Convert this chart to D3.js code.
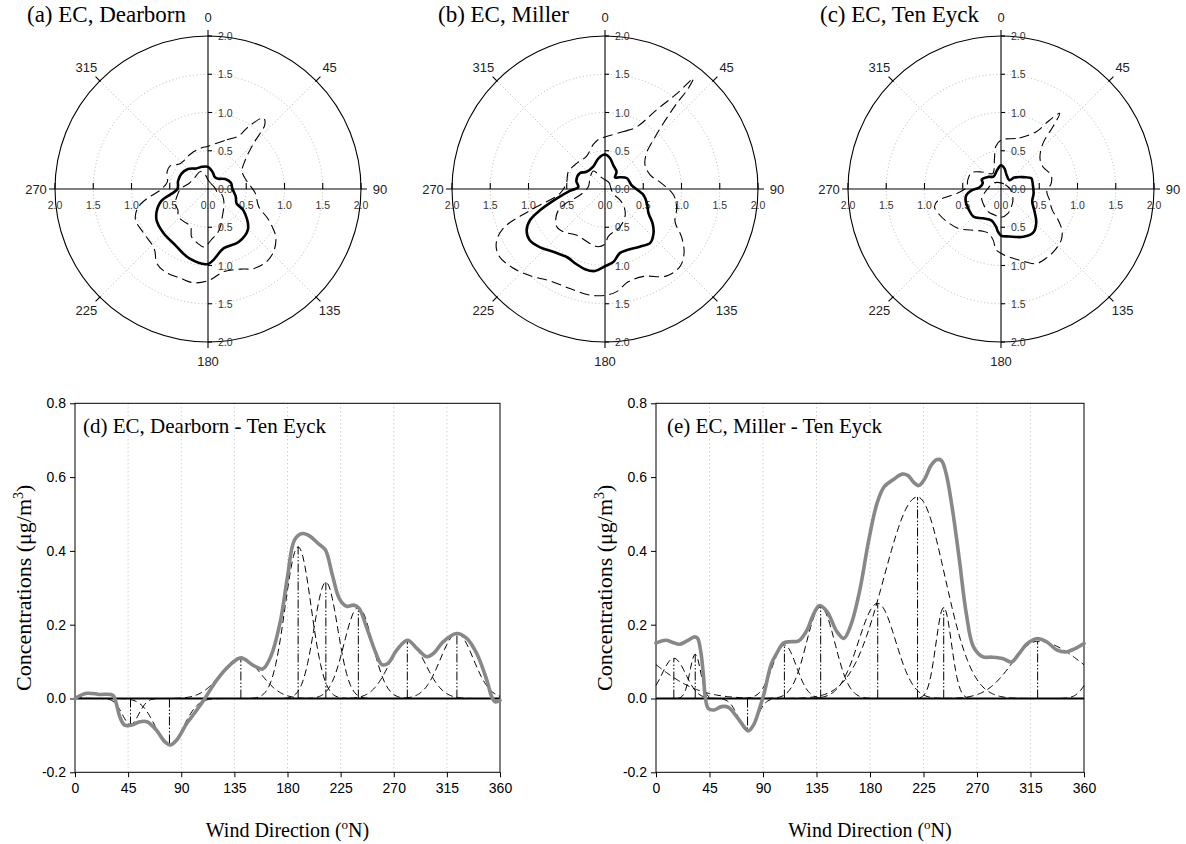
<!DOCTYPE html>
<html>
<head>
<meta charset="utf-8">
<script src="https://cdn.jsdelivr.net/npm/d3@7"></script>
<style>
  html, body { margin: 0; padding: 0; background: #fff; }
  svg { display: block; }
</style>
</head>
<body>
<svg id="chart" width="1186" height="844"></svg>
<script>
// ---------- polar roses: [wind direction (deg), EC (ug/m3)] ----------
const compassTicks = [0, 45, 90, 135, 180, 225, 270, 315];
const radialTicks = [0.5, 1.0, 1.5, 2.0];

const dearbornMean = [[0,0.29],[15,0.23],[30,0.18],[45,0.19],[60,0.26],[75,0.31],[90,0.32],[105,0.375],[117,0.42],[121,0.54],[135,0.74],[150,0.80],[165,0.80],[180,0.98],[195,0.94],[210,0.85],[225,0.82],[240,0.78],[255,0.64],[270,0.40],[285,0.405],[300,0.40],[315,0.37],[330,0.31],[345,0.30]];
const dearbornUpper = [[0,0.56],[21,0.69],[30,0.80],[33,0.97],[38,1.18],[41.5,1.12],[45,0.84],[52,0.62],[63,0.50],[79,0.52],[95,0.62],[109,0.70],[117,0.89],[125,1.08],[133,1.18],[141,1.22],[150,1.20],[158,1.13],[169,1.10],[180,1.20],[189,1.24],[197,1.22],[207,1.22],[214.5,1.18],[222,1.05],[235,1.02],[247,1.03],[255,0.95],[261,0.81],[269,0.62],[280,0.54],[293,0.58],[301,0.58],[313,0.49],[333,0.51],[349,0.54]];
const dearbornLower = [[0,0.12],[30,0.08],[60,0.08],[90,0.10],[106,0.12],[113,0.20],[125,0.25],[138,0.31],[153,0.41],[162,0.52],[168,0.59],[175,0.65],[184,0.76],[191,0.72],[199,0.66],[205,0.54],[217,0.53],[227,0.53],[235,0.48],[246,0.47],[256,0.42],[270,0.36],[286,0.26],[314,0.23],[336,0.25],[350,0.18]];

const millerMean = [[0,0.45],[9,0.41],[19,0.33],[34,0.27],[41,0.20],[52,0.25],[64,0.32],[81.5,0.35],[93,0.44],[99,0.51],[109,0.58],[119,0.65],[126,0.77],[132.5,0.86],[140,0.92],[149,0.88],[160,0.85],[167,0.86],[173.5,0.96],[180,1.01],[187,1.08],[194,1.08],[201,1.05],[209,1.02],[219,1.06],[228,1.14],[236,1.19],[242,1.16],[247.5,1.06],[252,0.89],[259,0.64],[267,0.46],[274,0.35],[286,0.39],[302,0.39],[313,0.33],[332,0.33],[348,0.41]];
const millerUpper = [[0,0.68],[18,0.79],[27,0.91],[33,1.23],[37,1.56],[38.6,1.85],[39.6,1.71],[40,1.46],[41.6,1.15],[44.6,0.90],[49,0.72],[59,0.61],[73,0.62],[84,0.74],[95,0.90],[105,0.97],[115,1.01],[122,1.18],[129,1.33],[136,1.41],[145,1.39],[156,1.25],[166,1.25],[173.5,1.35],[180,1.39],[188,1.40],[199,1.38],[211,1.40],[221,1.50],[230,1.59],[238,1.64],[244,1.58],[249,1.42],[254,1.02],[264.5,0.59],[279,0.51],[295,0.53],[312,0.50],[330,0.49],[345,0.60],[352,0.65]];
const millerLower = [[0,0.12],[30,0.10],[60,0.08],[90,0.08],[121,0.13],[126,0.24],[133,0.34],[142,0.43],[158,0.53],[176,0.62],[180,0.72],[187,0.76],[195,0.74],[212,0.71],[224,0.78],[232,0.80],[240,0.74],[246,0.66],[250,0.54],[256,0.34],[278,0.22],[305,0.24],[327,0.28],[345,0.15]];

const tenEyckMean = [[0,0.31],[10,0.27],[21,0.20],[44,0.16],[49.5,0.23],[62,0.33],[70.6,0.42],[83,0.42],[97.6,0.43],[112,0.44],[124,0.53],[134,0.64],[144,0.71],[155,0.69],[170,0.63],[180,0.61],[184,0.56],[188,0.49],[197,0.43],[211.5,0.45],[225,0.51],[237,0.50],[250,0.49],[260,0.46],[267,0.39],[274.5,0.28],[287.5,0.25],[296.6,0.28],[313.5,0.23],[329,0.19],[348,0.25]];
const tenEyckUpper = [[0,0.64],[20,0.71],[31.6,0.88],[35.2,1.10],[37.8,1.25],[39.8,1.06],[42.6,0.81],[51.6,0.65],[62,0.62],[74.5,0.68],[83.6,0.66],[93.3,0.60],[102.7,0.65],[112,0.72],[118.5,0.85],[124,0.96],[130,1.03],[140,1.07],[147,1.08],[154.6,1.08],[161,1.01],[167.7,0.94],[175.4,0.88],[180,0.84],[184.4,0.80],[189,0.67],[196,0.60],[203,0.60],[217,0.67],[226,0.75],[236,0.81],[247,0.87],[255,0.90],[259.5,0.84],[262,0.70],[265,0.56],[273,0.45],[285,0.45],[299,0.44],[311,0.34],[323,0.25],[333,0.23],[348,0.41],[353,0.56]];
const tenEyckLower = [[0,0.08],[45,0.08],[90,0.12],[132,0.21],[150,0.27],[164,0.33],[180,0.37],[194,0.35],[210,0.34],[231,0.30],[245,0.28],[257,0.22],[273,0.17],[305,0.13],[330,0.10]];

// ---------- site differences vs wind direction ----------
const dirTicks = [0, 45, 90, 135, 180, 225, 270, 315, 360];
const concTicks = [-0.2, 0.0, 0.2, 0.4, 0.6, 0.8];

const dearbornDiffDir = [0,10,21,32,35,38,42,48,55,61,69,76,80.5,86,94.6,103,110,120,131,140.5,151,159,166,174,180,186,192.5,199,206,212,218,224,230,236,240.5,247.5,255,260,265,272.5,281.6,289.5,298,303.6,312,323.3,331.8,340.3,348.8,353,356,360];
const dearbornDiffVal = [0,0.014,0.011,0.009,-0.014,-0.05,-0.072,-0.072,-0.063,-0.063,-0.086,-0.117,-0.126,-0.113,-0.068,-0.032,0,0.05,0.09,0.11,0.09,0.08,0.115,0.21,0.33,0.43,0.447,0.44,0.42,0.403,0.335,0.27,0.25,0.253,0.245,0.188,0.122,0.092,0.095,0.131,0.158,0.136,0.113,0.122,0.154,0.176,0.163,0.122,0.05,0.005,-0.009,-0.005];
const dearbornPeakCenter = [47, 80, 140.5, 189, 212.5, 240, 281.5, 323.5];
const dearbornPeakHeight = [-0.07, -0.125, 0.11, 0.411, 0.315, 0.247, 0.158, 0.176];
const dearbornPeakWidthL = [7, 12, 17, 11, 10, 12, 15, 14];
const dearbornPeakWidthR = [7, 12, 17, 11, 10, 12, 15, 14];

const millerDiffDir = [0,8,14,20,26,32.5,35,37.5,39.7,41.6,44,49,55,61,68,74,77.5,82,87,91,97,102,107,113,120,127,132,137.5,144,152,158,164,171.5,179,186,192,200,207,212,217,221,226,231,236,240,244,249,255,261,267,275,283,292,299,305,312,320,328,337,345,353,360];
const millerDiffVal = [0.15,0.158,0.152,0.147,0.156,0.167,0.163,0.13,0.07,0,-0.027,-0.031,-0.022,-0.024,-0.05,-0.076,-0.088,-0.072,-0.028,0.015,0.094,0.125,0.15,0.154,0.156,0.185,0.225,0.252,0.235,0.182,0.163,0.2,0.295,0.43,0.53,0.574,0.594,0.608,0.604,0.585,0.577,0.595,0.63,0.647,0.645,0.61,0.52,0.38,0.23,0.14,0.113,0.112,0.108,0.099,0.12,0.148,0.162,0.155,0.132,0.126,0.136,0.149];
const millerPeakCenter = [15, 33, 77, 108, 138.5, 186.5, 220, 242, 321];
const millerPeakHeight = [0.109, 0.12, -0.089, 0.145, 0.248, 0.258, 0.546, 0.247, 0.155];
const millerPeakWidthL = [10, 4.5, 7.5, 10, 12, 16, 28, 6.5, 22];
const millerPeakWidthR = [10, 4.5, 7.5, 10, 12, 15, 23, 6.5, 38];

// ---------- drawing ----------
const svg = d3.select("#chart");
const SANS = "'Liberation Sans', Arial, sans-serif";
const SERIF = "'Liberation Serif', 'Times New Roman', serif";
const rad = d => d * Math.PI / 180;
const fmt1 = d => d.toFixed(1);

const R = 153;
const rScale = d3.scaleLinear().domain([0, 2]).range([0, R]);
const rose = d3.lineRadial()
  .angle(d => rad(d[0]))
  .radius(d => rScale(d[1]))
  .curve(d3.curveCatmullRomClosed.alpha(0.5));

const roses = [
  { title: "(a) EC, Dearborn", cx: 208, cy: 189, tx: 27,  mean: dearbornMean, upper: dearbornUpper, lower: dearbornLower },
  { title: "(b) EC, Miller",   cx: 605, cy: 189, tx: 438, mean: millerMean,   upper: millerUpper,   lower: millerLower },
  { title: "(c) EC, Ten Eyck", cx: 1001, cy: 189, tx: 820, mean: tenEyckMean, upper: tenEyckUpper, lower: tenEyckLower }
];

roses.forEach(p => {
  svg.append("text").attr("x", p.tx).attr("y", 22)
    .attr("font-family", SERIF).attr("font-size", 23).attr("fill", "#000")
    .text(p.title);

  const g = svg.append("g").attr("transform", `translate(${p.cx},${p.cy})`);

  // dotted concentration rings and diagonal spokes
  g.selectAll("circle.ring").data(radialTicks.slice(0, 3)).join("circle")
    .attr("r", d => rScale(d)).attr("fill", "none")
    .attr("stroke", "#b8b8b8").attr("stroke-width", 1).attr("stroke-dasharray", "1,2.5");
  g.selectAll("line.spoke").data([45, 135, 225, 315]).join("line")
    .attr("x1", 0).attr("y1", 0)
    .attr("x2", d => Math.sin(rad(d)) * R).attr("y2", d => -Math.cos(rad(d)) * R)
    .attr("stroke", "#b8b8b8").attr("stroke-width", 1).attr("stroke-dasharray", "1,2.5");

  // outer ring and cross axes
  g.append("circle").attr("r", R).attr("fill", "none").attr("stroke", "#000").attr("stroke-width", 1.1);
  g.append("line").attr("x1", 0).attr("x2", 0).attr("y1", -R - 6).attr("y2", R + 6)
    .attr("stroke", "#000").attr("stroke-width", 1.1);
  g.append("line").attr("y1", 0).attr("y2", 0).attr("x1", -R - 6).attr("x2", R + 6)
    .attr("stroke", "#000").attr("stroke-width", 1.1);

  // compass ticks on the ring
  g.selectAll("line.ctick").data([45, 135, 225, 315]).join("line")
    .attr("x1", d => Math.sin(rad(d)) * (R - 1)).attr("y1", d => -Math.cos(rad(d)) * (R - 1))
    .attr("x2", d => Math.sin(rad(d)) * (R + 6)).attr("y2", d => -Math.cos(rad(d)) * (R + 6))
    .attr("stroke", "#000").attr("stroke-width", 1.1);
  g.selectAll("text.compass").data(compassTicks).join("text")
    .attr("x", d => Math.sin(rad(d)) * (R + 19))
    .attr("y", d => -Math.cos(rad(d)) * (R + 19))
    .attr("text-anchor", "middle").attr("dominant-baseline", "central")
    .attr("font-family", SANS).attr("font-size", 13).attr("fill", "#222")
    .text(d => d);

  // radial ticks: vertical axis (ticks to the right), horizontal axis (ticks upward)
  const signed = radialTicks.flatMap(v => [-v, v]);
  g.selectAll("line.vtick").data(signed).join("line")
    .attr("x1", 0).attr("x2", 4)
    .attr("y1", d => (d < 0 ? -1 : 1) * rScale(Math.abs(d)))
    .attr("y2", d => (d < 0 ? -1 : 1) * rScale(Math.abs(d)))
    .attr("stroke", "#000").attr("stroke-width", 1.1);
  g.selectAll("line.htick").data(signed).join("line")
    .attr("y1", 0).attr("y2", -6)
    .attr("x1", d => (d < 0 ? -1 : 1) * rScale(Math.abs(d)))
    .attr("x2", d => (d < 0 ? -1 : 1) * rScale(Math.abs(d)))
    .attr("stroke", "#000").attr("stroke-width", 1.1);

  const labelled = [0].concat(signed);
  g.selectAll("text.vlab").data(labelled).join("text")
    .attr("x", 10)
    .attr("y", d => (d < 0 ? -1 : 1) * rScale(Math.abs(d)))
    .attr("dominant-baseline", "central")
    .attr("font-family", SANS).attr("font-size", 10.5).attr("fill", "#333")
    .text(d => fmt1(Math.abs(d)));
  g.selectAll("text.hlab").data(labelled).join("text")
    .attr("x", d => (d < 0 ? -1 : 1) * rScale(Math.abs(d)))
    .attr("y", 16)
    .attr("text-anchor", "middle").attr("dominant-baseline", "central")
    .attr("font-family", SANS).attr("font-size", 10.5).attr("fill", "#333")
    .text(d => fmt1(Math.abs(d)));

  // rose curves
  [p.upper, p.lower].forEach(series => {
    g.append("path").attr("d", rose(series)).attr("fill", "none")
      .attr("stroke", "#000").attr("stroke-width", 1.1).attr("stroke-dasharray", "10,5");
  });
  g.append("path").attr("d", rose(p.mean)).attr("fill", "none")
    .attr("stroke", "#000").attr("stroke-width", 2.6).attr("stroke-linejoin", "round");
});

// ---------- difference panels ----------
const diffs = [
  { title: "(d) EC, Dearborn - Ten Eyck", left: 75, right: 500, tx: 83,
    dir: dearbornDiffDir, val: dearbornDiffVal,
    pc: dearbornPeakCenter, ph: dearbornPeakHeight, pl: dearbornPeakWidthL, pr: dearbornPeakWidthR },
  { title: "(e) EC, Miller - Ten Eyck", left: 656, right: 1084, tx: 667,
    dir: millerDiffDir, val: millerDiffVal,
    pc: millerPeakCenter, ph: millerPeakHeight, pl: millerPeakWidthL, pr: millerPeakWidthR }
];
const TOP = 403.3, BOTTOM = 772.3;
const steps = d3.range(0, 360.5, 1);

diffs.forEach(p => {
  const x = d3.scaleLinear().domain([0, 360]).range([p.left, p.right]);
  const y = d3.scaleLinear().domain([-0.2, 0.8]).range([BOTTOM, TOP]);
  const g = svg.append("g");

  // vertical dotted grid
  g.selectAll("line.grid").data(dirTicks.slice(1, -1)).join("line")
    .attr("x1", d => x(d)).attr("x2", d => x(d)).attr("y1", TOP).attr("y2", BOTTOM)
    .attr("stroke", "#bdbdbd").attr("stroke-width", 1).attr("stroke-dasharray", "1,3");

  // axes
  g.append("g").attr("transform", `translate(${p.left},0)`)
    .call(d3.axisLeft(y).tickValues(concTicks).tickFormat(fmt1).tickSize(5).tickSizeOuter(0))
    .call(a => a.select(".domain").remove())
    .call(a => a.selectAll("text").attr("font-family", SANS).attr("font-size", 14).attr("fill", "#000").attr("x", -9));
  g.append("g").attr("transform", `translate(0,${BOTTOM})`)
    .call(d3.axisBottom(x).tickValues(dirTicks).tickFormat(d => d).tickSize(5).tickSizeOuter(0))
    .call(a => a.select(".domain").remove())
    .call(a => a.selectAll("text").attr("font-family", SANS).attr("font-size", 14).attr("fill", "#000").attr("y", 11));
  g.selectAll(".tick line").attr("stroke", "#000");
  g.append("rect").attr("x", p.left).attr("y", TOP)
    .attr("width", p.right - p.left).attr("height", BOTTOM - TOP)
    .attr("fill", "none").attr("stroke", "#000").attr("stroke-width", 1);

  // fitted peak components (wrapped on the compass circle)
  p.pc.forEach((c, i) => {
    const comp = steps.map(t => {
      let dd = ((t - c) % 360 + 540) % 360 - 180;
      const s = dd < 0 ? p.pl[i] : p.pr[i];
      return [t, p.ph[i] * Math.exp(-0.5 * (dd / s) * (dd / s))];
    });
    g.append("path")
      .attr("d", d3.line().x(d => x(d[0])).y(d => y(d[1]))(comp))
      .attr("fill", "none").attr("stroke", "#000").attr("stroke-width", 1)
      .attr("stroke-dasharray", "7,4");
    g.append("line")
      .attr("x1", x(c)).attr("x2", x(c)).attr("y1", y(0)).attr("y2", y(p.ph[i]))
      .attr("stroke", "#000").attr("stroke-width", 1)
      .attr("stroke-dasharray", "9,2,1.5,2,1.5,2");
  });

  // zero line
  g.append("line").attr("x1", x(0)).attr("x2", x(360)).attr("y1", y(0)).attr("y2", y(0))
    .attr("stroke", "#000").attr("stroke-width", 2);

  // observed difference
  const pts = p.dir.map((d, i) => [d, p.val[i]]);
  g.append("path")
    .attr("d", d3.line().x(d => x(d[0])).y(d => y(d[1])).curve(d3.curveCatmullRom.alpha(0.5))(pts))
    .attr("fill", "none").attr("stroke", "#888").attr("stroke-width", 3.6)
    .attr("stroke-linejoin", "round").attr("stroke-linecap", "round");

  // panel title
  g.append("text").attr("x", p.tx).attr("y", 433)
    .attr("font-family", SERIF).attr("font-size", 21).attr("fill", "#000")
    .text(p.title);

  // axis titles
  const xt = g.append("text").attr("x", (p.left + p.right) / 2).attr("y", 837)
    .attr("text-anchor", "middle").attr("font-family", SERIF).attr("font-size", 20).attr("fill", "#000");
  xt.append("tspan").text("Wind Direction (");
  xt.append("tspan").attr("dy", -8).attr("font-size", 13).text("o");
  xt.append("tspan").attr("dy", 8).text("N)");

  const yt = g.append("text")
    .attr("transform", `translate(${p.left - 44},${(TOP + BOTTOM) / 2}) rotate(-90)`)
    .attr("text-anchor", "middle").attr("font-family", SERIF).attr("font-size", 22).attr("fill", "#000");
  yt.append("tspan").text("Concentrations (\u03bcg/m");
  yt.append("tspan").attr("dy", -8).attr("font-size", 14).text("3");
  yt.append("tspan").attr("dy", 8).text(")");
});
</script>
</body>
</html>
